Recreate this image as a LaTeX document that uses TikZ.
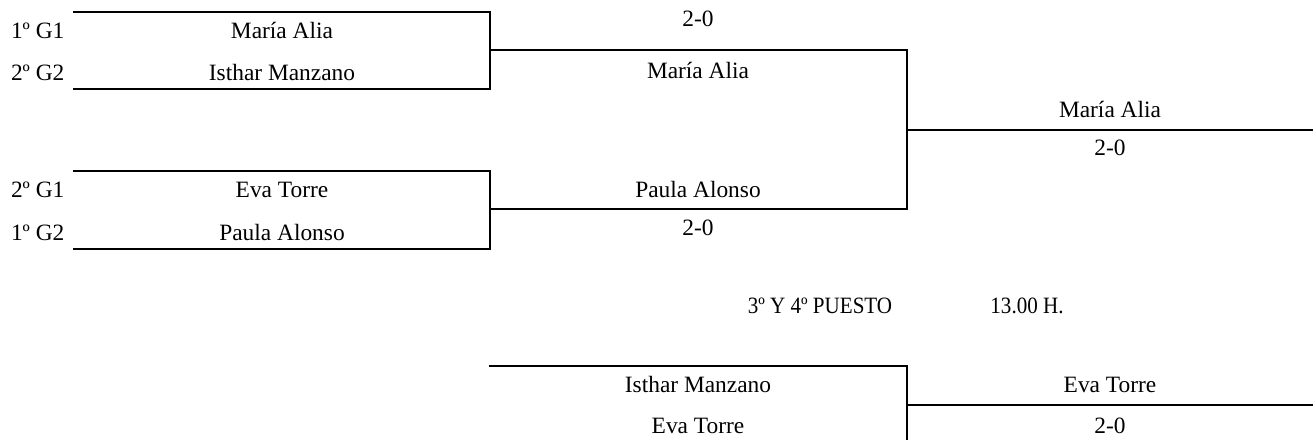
\documentclass[tikz,border=0pt]{standalone}
\usepackage{fontspec}
\setmainfont{Liberation Serif}
\begin{document}
\begin{tikzpicture}[x=1pt,y=-1pt,line width=2pt,
  txt/.style={font=\fontsize{23.4}{28}\selectfont,anchor=base,inner sep=0pt},
  lbl/.style={txt,anchor=base west},
  cond/.style={txt,xscale=0.9},
  bline/.style={line width=2pt,line cap=rect}]
\useasboundingbox (0,0) rectangle (1313,439);
% bracket corner coordinates
\coordinate (a1) at (74,12);   \coordinate (a2) at (490,12);
\coordinate (a3) at (490,89);  \coordinate (a4) at (74,89);
\coordinate (b1) at (74,171);  \coordinate (b2) at (490,171);
\coordinate (b3) at (490,249); \coordinate (b4) at (74,249);
\coordinate (c1) at (490,50);  \coordinate (c2) at (907,50);
\coordinate (c3) at (907,209); \coordinate (c4) at (490,209);
\coordinate (f1) at (907,130); \coordinate (f2) at (1313,130);
\coordinate (d1) at (490,366); \coordinate (d2) at (907,366);
\coordinate (d3) at (907,439);
\coordinate (e1) at (907,405); \coordinate (e2) at (1313,405);
% connectors
\draw[bline] (a1) -- (a2) -- (a3) -- (a4);
\draw[bline] (b1) -- (b2) -- (b3) -- (b4);
\draw[bline] (c1) -- (c2) -- (c3) -- (c4);
\draw[bline] (f1) -- (f2);
\draw[bline] (d1) -- (d2) -- (d3);
\draw[bline] (e1) -- (e2);
% left labels
\node[lbl] (l1) at (10,38)  {1º G1};
\node[lbl] (l2) at (10,80)  {2º G2};
\node[lbl] (l3) at (10,197) {2º G1};
\node[lbl] (l4) at (10,240) {1º G2};
% first round names
\node[txt] (n1) at (282,38)  {María Alia};
\node[txt] (n2) at (282,80)  {Isthar Manzano};
\node[txt] (n3) at (282,197) {Eva Torre};
\node[txt] (n4) at (282,240) {Paula Alonso};
% second column
\node[txt] (s1) at (698,27)  {2-0};
\node[txt] (s2) at (698,78)  {María Alia};
\node[txt] (s3) at (698,197) {Paula Alonso};
\node[txt] (s4) at (698,235) {2-0};
% final
\node[txt] (w1) at (1110,117) {María Alia};
\node[txt] (w2) at (1110,155) {2-0};
% third place header
\node[cond] (h1) at (820,313) {3º Y 4º PUESTO};
\node[cond] (h2) at (1027,313) {13.00 H.};
% third place match
\node[txt] (t1) at (698,392) {Isthar Manzano};
\node[txt] (t2) at (698,433) {Eva Torre};
\node[txt] (t3) at (1110,392) {Eva Torre};
\node[txt] (t4) at (1110,433) {2-0};
\end{tikzpicture}
\end{document}
